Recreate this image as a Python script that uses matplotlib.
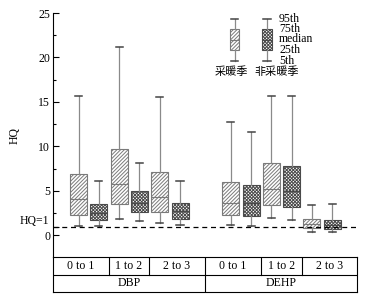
import matplotlib
matplotlib.use('Agg')
import matplotlib.pyplot as plt
from matplotlib.ticker import MultipleLocator

plt.rcParams['font.family'] = ['Liberation Serif', 'Noto Sans CJK SC']
plt.rcParams['hatch.linewidth'] = 0.7

compounds = ['DBP', 'DEHP']
age_groups = ['0 to 1', '1 to 2', '2 to 3']
seasons = ['采暖季', '非采暖季']
stat_names = ['5th', '25th', 'median', '75th', '95th']

# [5th, 25th, median, 75th, 95th] for each age group
dbp_heating = [[1.10, 2.30, 4.10, 6.90, 15.7],
               [1.80, 3.50, 5.75, 9.70, 21.2],
               [1.35, 2.60, 4.30, 7.10, 15.6]]
dbp_nonheating = [[1.07, 1.75, 2.50, 3.55, 6.1],
                  [1.63, 2.60, 3.70, 4.97, 8.1],
                  [1.18, 1.85, 2.70, 3.70, 6.1]]
dehp_heating = [[1.14, 2.27, 3.62, 5.97, 12.7],
                [1.93, 3.40, 5.22, 8.10, 15.65],
                [0.43, 0.84, 1.29, 1.82, 3.46]]
dehp_nonheating = [[1.07, 2.16, 3.62, 5.71, 11.66],
                   [1.71, 3.17, 5.03, 7.78, 15.65],
                   [0.36, 0.70, 1.15, 1.74, 3.57]]

data = {'DBP': [dbp_heating, dbp_nonheating],
        'DEHP': [dehp_heating, dehp_nonheating]}

season_style = [dict(hatch='/' * 9, edge='#7a7a7a'),
                dict(hatch='x' * 10, edge='#4a4a4a')]

fig = plt.figure(figsize=(3.74, 2.97), dpi=100)
ax = fig.add_axes([53/374, 1-257/297, 304/374, 244/297])

group_gap = 7.5
xlim = (-1.26, 13.72)


def to_stats(v):
    return dict(whislo=v[0], q1=v[1], med=v[2], q3=v[3], whishi=v[4], fliers=[])


def draw_boxes(axis, stats, positions, style, width, capw):
    res = axis.bxp(stats, positions=positions, widths=width, capwidths=capw,
                   patch_artist=True, showfliers=False, manage_ticks=False,
                   boxprops=dict(linewidth=0.8),
                   whiskerprops=dict(color='#8a8a8a', linewidth=0.9),
                   capprops=dict(color='#444444', linewidth=1.1),
                   medianprops=dict(color=style['edge'], linewidth=0.8))
    for b in res['boxes']:
        b.set_facecolor('white')
        b.set_edgecolor(style['edge'])
        b.set_hatch(style['hatch'])
    return res


for g, comp in enumerate(compounds):
    for s in range(len(seasons)):
        vals = data[comp][s]
        stats = [to_stats(v) for v in vals]
        pos = [g * group_gap + a * 2 + s for a in range(len(vals))]
        draw_boxes(ax, stats, pos, season_style[s], 0.84, 0.35)

ax.axhline(1, color='black', linewidth=0.9, linestyle=(0, (4, 3)))

ax.set_xlim(*xlim)
ax.set_ylim(-2.42, 25)
ax.set_xticks([])
ax.set_yticks([0, 1, 5, 10, 15, 20, 25])
ax.set_yticklabels(['0', '', '5', '10', '15', '20', '25'])
ax.text(-0.012, 1.63, 'HQ=1', transform=ax.get_yaxis_transform(),
        ha='right', va='center', fontsize=8.5)
ax.yaxis.set_minor_locator(MultipleLocator(2.5))
ax.tick_params(axis='y', which='major', direction='in', length=4, width=0.8,
               labelsize=8.5, pad=2)
ax.tick_params(axis='y', which='minor', direction='in', length=2.5, width=0.8)
for sp in ['top', 'right', 'bottom']:
    ax.spines[sp].set_visible(False)
ax.spines['left'].set_linewidth(0.8)
ax.set_ylabel('HQ', fontsize=8.5)
ax.yaxis.set_label_coords(-0.105, 0.50)

# category table under the plot
tax = fig.add_axes([53/374, 1-292/297, 304/374, 35/297])
tax.set_xlim(*xlim)
tax.set_ylim(0, 2)
tax.set_xticks([])
tax.set_yticks([])
for sp in tax.spines.values():
    sp.set_linewidth(0.8)
tax.axhline(1, color='black', linewidth=0.8)
age_dividers = [[1.50, 3.47], [8.99, 11.01]]
comp_divider = 6.23
tax.axvline(comp_divider, color='black', linewidth=0.8)
comp_bounds = [(xlim[0], comp_divider), (comp_divider, xlim[1])]
for g, comp in enumerate(compounds):
    lo, hi = comp_bounds[g]
    edges = [lo] + age_dividers[g] + [hi]
    for d in age_dividers[g]:
        tax.plot([d, d], [1, 2], color='black', linewidth=0.8)
    for a, lab in enumerate(age_groups):
        tax.text((edges[a] + edges[a + 1]) / 2, 1.5, lab, ha='center',
                 va='center', fontsize=8.5)
    tax.text((lo + hi) / 2, 0.5, comp, ha='center', va='center', fontsize=8.5)

# legend key
lax = fig.add_axes([222/374, 1-65.75/297, 58/374, 52.5/297])
lax.set_xlim(-0.385, 1.4)
lax.set_ylim(-0.5, 4.5)
lax.axis('off')
key_levels = list(range(len(stat_names)))
season_label_x = [-0.09, 1.29]
for s in range(len(seasons)):
    draw_boxes(lax, [to_stats(key_levels)], [s], season_style[s], 0.28, 0.22)
    lax.text(season_label_x[s], -1.07, seasons[s], ha='center', va='center',
             fontsize=8, clip_on=False)
for lvl, name in zip(key_levels, stat_names):
    lax.text(1.37, lvl, name, ha='left', va='center', fontsize=8.5,
             clip_on=False)

fig.savefig('out.png', dpi=100)
